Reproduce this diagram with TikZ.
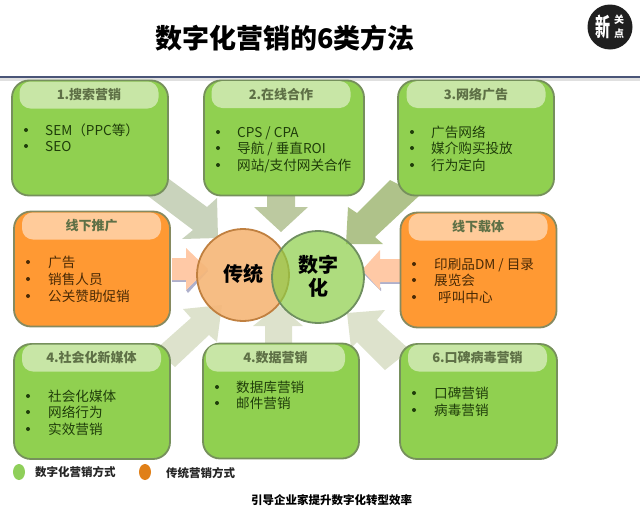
\documentclass[tikz,border=0pt]{standalone}
\usepackage{fontspec}
\usepackage{graphicx}
\usetikzlibrary{shapes.geometric}
\setmainfont{Noto Sans CJK SC}
\definecolor{gfill}{HTML}{90D050}
\definecolor{gedge}{HTML}{76905C}
\definecolor{ghead}{HTML}{C8E6A6}
\definecolor{ofill}{HTML}{FF9933}
\definecolor{oedge}{HTML}{868A60}
\definecolor{ohead}{HTML}{FFCB9A}
\definecolor{htext}{HTML}{5E7046}
\definecolor{gtext}{HTML}{1F3D0A}
\definecolor{otext}{HTML}{4A2A05}
\definecolor{ruleblue}{HTML}{4A5578}
\definecolor{blocka}{HTML}{C9D3BC}
\definecolor{blockb}{HTML}{BCC9A0}
\definecolor{blockc}{HTML}{AFC28A}
\definecolor{blockd}{HTML}{DDE2CC}
\definecolor{blocko}{HTML}{FFC9A6}
\definecolor{blocks}{HTML}{AEB0CC}
\definecolor{circoe}{HTML}{C08040}
\definecolor{circof}{HTML}{F5B77A}
\definecolor{circge}{HTML}{6F8F5F}
\definecolor{circgf}{HTML}{8BCD47}
\definecolor{leggreen}{HTML}{8FCF5A}
\definecolor{legorange}{HTML}{E08018}
\tikzset{
  cardbox/.style={draw=gedge,fill=gfill,line width=1.8pt,rounded corners=17pt,minimum width=156pt,minimum height=115pt,inner sep=0pt},
  greenbox/.style={cardbox},
  orangebox/.style={cardbox,draw=oedge,fill=ofill},
  headbox/.style={rounded corners=11pt,minimum width=139pt,minimum height=27pt,inner sep=0pt,text=htext,font=\fontsize{13}{13}\selectfont\bfseries},
  ghd/.style={headbox,fill=ghead},
  ohd/.style={headbox,fill=ohead},
  listitem/.style={anchor=west,inner sep=0pt,font=\fontsize{13.6}{13.6}\selectfont,text height=11.9pt,text depth=1.7pt},
  gitem/.style={listitem,text=gtext},
  oitem/.style={listitem,text=otext},
  dotg/.style={circle,fill=gtext,inner sep=0pt,minimum size=4pt},
  doto/.style={circle,fill=otext,inner sep=0pt,minimum size=4pt},
  circtext/.style={inner sep=0pt,font=\fontsize{20}{20}\selectfont\bfseries,text=black},
  legendtext/.style={anchor=west,inner sep=0pt,font=\fontsize{11.5}{11.5}\selectfont\bfseries,text=black!85},
  logosmall/.style={inner sep=0pt,text=white,font=\fontsize{10}{10}\selectfont\bfseries},
}
\begin{document}
\begin{tikzpicture}[x=1pt,y=-1pt]
\useasboundingbox (0,0) rectangle (640,509);
% title and rule
\node[inner sep=0pt,font=\fontsize{27}{27}\selectfont\bfseries] (title) at (285,38) {数字化营销的6类方法};
\fill[black!12] (0,77) rectangle (640,81);
\fill[ruleblue] (0,75.5) rectangle (640,77.5);
% logo
\node[circle,fill=black!88,minimum size=45pt,inner sep=0pt] (logo) at (610,27) {};
\node[inner sep=0pt,text=white,font=\fontsize{20}{20}\selectfont\bfseries] (logoa) at (603,27) {\scalebox{.75}[1.25]{新}};
\node[logosmall] (logob) at (619,20) {关};
\node[logosmall] (logoc) at (619,34) {点};
% block arrows
\fill[blocka] (150,165) -- (207,207) -- (217,198) -- (218,238) -- (182,239) -- (193,230) -- (140,190) -- cycle;
\fill[blockb] (267,190) -- (295,190) -- (295,207) -- (308,207) -- (281,232) -- (254,207) -- (267,207) -- cycle;
\fill[blockc] (390,180) -- (357,213) -- (348,207) -- (346,244) -- (383,244) -- (375,237) -- (420,195) -- cycle;
\fill[blockd] (155,350) -- (191,318) -- (183,309) -- (222,305) -- (217,342) -- (209,335) -- (175,367) -- cycle;
\fill[blockd] (265,350) -- (265,326) -- (253,326) -- (279,305) -- (303,326) -- (292,326) -- (292,350) -- cycle;
\fill[blockd] (347,313) -- (385,310) -- (377,320) -- (410,350) -- (385,370) -- (357,342) -- (351,348) -- cycle;
\fill[blocks] (172,279) -- (188,279) -- (188,282) -- (172,282) -- cycle;
\fill[blocks] (186,290) -- (207,269) -- (208,271) -- (188,293) -- cycle;
\fill[blocko] (172,258) -- (186,258) -- (186,248) -- (208,269) -- (186,290) -- (186,280) -- (172,280) -- cycle;
\fill[blocks] (380,281) -- (400,281) -- (400,284) -- (380,284) -- cycle;
\fill[blocks] (381,291) -- (362,272) -- (364,271) -- (381,288) -- cycle;
\fill[blocko] (402,259) -- (380,259) -- (380,250) -- (362,270) -- (380,290) -- (380,282) -- (402,282) -- cycle;
% circles
\node[circle,draw=circoe,fill=circof,line width=1.8pt,minimum size=92pt,inner sep=0pt,fill opacity=.92] (trad) at (243,275) {};
\node[circle,draw=circge,fill=circgf,line width=1.8pt,minimum size=92pt,inner sep=0pt,fill opacity=.7] (digi) at (318,277) {};
\node[circtext] (tradt) at (243,274) {传统};
\node[circtext] (digia) at (318,265) {数字};
\node[circtext] (digib) at (318,288) {化};
% cards
\node[greenbox] (c1) at (90,138) {};
\node[greenbox,minimum width=160pt] (c2) at (284,138) {};
\node[greenbox] (c3) at (476,138) {};
\node[orangebox] (c4) at (92,269) {};
\node[orangebox] (c5) at (478.5,270) {};
\node[greenbox] (c6) at (92,401.5) {};
\node[greenbox] (c7) at (281,401) {};
\node[greenbox,minimum width=157pt] (c8) at (478.5,401.5) {};
% headers
\node[ghd] (h1) at (89,95) {1.搜索营销};
\node[ghd] (h2) at (281,94.5) {2.在线合作};
\node[ghd] (h3) at (476,94.5) {3.网络广告};
\node[ohd] (h4) at (91.5,226) {线下推广};
\node[ohd] (h5) at (478,227) {线下载体};
\node[ghd] (h6) at (91.5,358) {4.社会化新媒体};
\node[ghd] (h7) at (275.5,358) {4.数据营销};
\node[ghd] (h8) at (477.5,358) {6.口碑病毒营销};
% items card 1
\node[dotg] (d11) at (26,130) {}; \node[gitem] (t11) at (45,130) {SEM（PPC等）};
\node[dotg] (d12) at (26,146) {}; \node[gitem] (t12) at (45,146) {SEO};
% card 2
\node[dotg] (d21) at (218,132) {}; \node[gitem] (t21) at (237,132) {CPS / CPA};
\node[dotg] (d22) at (218,148) {}; \node[gitem] (t22) at (237,148) {导航 / 垂直ROI};
\node[dotg] (d23) at (218,165) {}; \node[gitem] (t23) at (237,165) {网站/支付网关合作};
% card 3
\node[dotg] (d31) at (412,132) {}; \node[gitem] (t31) at (431,132) {广告网络};
\node[dotg] (d32) at (412,148) {}; \node[gitem] (t32) at (431,148) {媒介购买投放};
\node[dotg] (d33) at (412,165) {}; \node[gitem] (t33) at (431,165) {行为定向};
% card 4
\node[doto] (d41) at (28,262) {}; \node[oitem] (t41) at (48,262) {广告};
\node[doto] (d42) at (28,279) {}; \node[oitem] (t42) at (48,279) {销售人员};
\node[doto] (d43) at (28,296) {}; \node[oitem] (t43) at (48,296) {公关赞助促销};
% card 5
\node[doto] (d51) at (414,264) {}; \node[oitem] (t51) at (434,264) {印刷品DM / 目录};
\node[doto] (d52) at (414,280) {}; \node[oitem] (t52) at (434,280) {展览会};
\node[doto] (d53) at (414,297) {}; \node[oitem] (t53) at (438,297) {呼叫中心};
% card 6
\node[dotg] (d61) at (28,396) {}; \node[gitem] (t61) at (48,396) {社会化媒体};
\node[dotg] (d62) at (28,412) {}; \node[gitem] (t62) at (48,412) {网络行为};
\node[dotg] (d63) at (28,429) {}; \node[gitem] (t63) at (48,429) {实效营销};
% card 7
\node[dotg] (d71) at (217,387) {}; \node[gitem] (t71) at (236,387) {数据库营销};
\node[dotg] (d72) at (217,403) {}; \node[gitem] (t72) at (236,403) {邮件营销};
% card 8
\node[dotg] (d81) at (414,393) {}; \node[gitem] (t81) at (434,393) {口碑营销};
\node[dotg] (d82) at (414,410) {}; \node[gitem] (t82) at (434,410) {病毒营销};
% legend
\node[ellipse,fill=leggreen,minimum width=12pt,minimum height=16pt,inner sep=0pt] (lg) at (19,472) {};
\node[legendtext] (lgt) at (35,472) {数字化营销方式};
\node[ellipse,fill=legorange,minimum width=12pt,minimum height=16pt,inner sep=0pt] (lo) at (145,472) {};
\node[legendtext] (lot) at (166,473) {传统营销方式};
\node[inner sep=0pt,font=\fontsize{11.5}{11.5}\selectfont\bfseries] (foot) at (331.5,500) {引导企业家提升数字化转型效率};
\end{tikzpicture}
\end{document}
